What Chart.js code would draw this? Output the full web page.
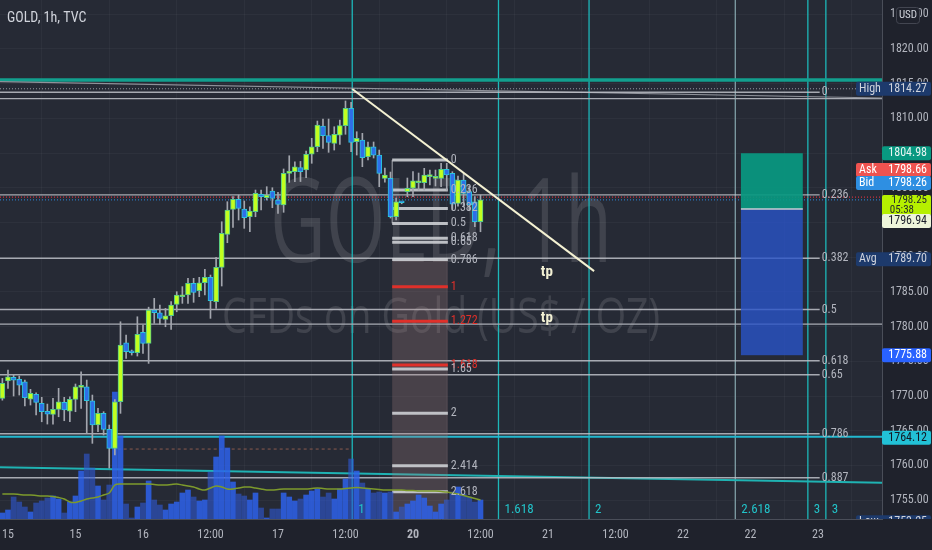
<!DOCTYPE html>
<html>
<head>
<meta charset="utf-8">
<script src="https://cdn.jsdelivr.net/npm/chart.js@4.4.1/dist/chart.umd.min.js"></script>
<style>
  html, body { margin: 0; padding: 0; background: #1e222d; }
  canvas { display: block; }
</style>
</head>
<body>
<canvas id="myChart" width="932" height="550"></canvas>
<script>
// hourly bars, index 0 = first bar at the left edge
const opens = [1769.67,1772.16,1772.69,1772.40,1772.06,1769.56,1770.24,1768.94,1767.79,1767.36,
  1768.08,1769.09,1767.83,1769.52,1771.25,1771.34,1769.32,1765.82,1767.50,1765.20,
  1762.46,1769.18,1777.68,1776.48,1776.24,1779.18,1777.59,1782.39,1782.00,1781.05,
  1781.57,1783.21,1784.30,1784.55,1786.24,1785.17,1786.32,1787.10,1783.59,1788.54,
  1793.30,1796.90,1798.34,1796.94,1795.83,1796.55,1799.06,1798.57,1799.54,1798.24,
  1797.52,1802.09,1802.32,1802.90,1802.56,1804.83,1805.92,1808.90,1807.51,1806.41,
  1807.60,1808.95,1811.45,1806.64,1806.89,1804.48,1805.92,1804.72,1801.37,1801.37,
  1795.83,1797.90,1799.44,1799.93,1800.73,1800.73,1801.60,1801.37,1801.37,1802.66,
  1802.09,1797.76,1801.12,1799.44,1797.99,1795.11];
const highs = [1772.54,1773.74,1773.02,1772.88,1772.30,1770.96,1770.47,1769.81,1768.84,1769.67,
  1771.11,1769.81,1769.90,1771.73,1773.50,1772.30,1770.14,1768.22,1767.74,1765.82,
  1769.50,1780.70,1778.79,1776.63,1781.42,1780.23,1782.80,1784.07,1783.11,1782.63,
  1783.59,1785.03,1785.76,1786.96,1786.96,1787.10,1788.25,1787.43,1789.98,1795.11,
  1798.00,1798.72,1798.96,1798.10,1797.27,1799.68,1799.68,1800.16,1800.01,1799.35,
  1802.71,1804.62,1803.76,1803.80,1805.30,1807.13,1809.62,1809.91,1809.91,1808.80,
  1809.77,1812.51,1812.32,1808.08,1807.85,1806.60,1806.60,1805.44,1802.85,1802.27,
  1798.53,1798.00,1801.41,1802.32,1802.13,1802.81,1802.56,1802.56,1803.53,1803.53,
  1802.32,1801.70,1802.09,1800.26,1798.72,1798.96];
const lows = [1769.40,1771.10,1770.00,1770.14,1768.56,1768.70,1767.26,1766.29,1765.96,1765.96,
  1767.01,1766.44,1766.29,1767.74,1768.22,1764.62,1763.18,1764.85,1764.38,1759.62,
  1761.50,1767.50,1775.43,1775.90,1775.76,1776.15,1774.70,1780.47,1780.37,1779.98,
  1779.61,1782.14,1783.35,1783.35,1783.50,1784.31,1784.55,1781.19,1782.63,1785.85,
  1792.09,1794.31,1795.36,1794.16,1793.67,1795.83,1796.80,1798.24,1797.13,1796.32,
  1796.47,1800.79,1800.88,1800.90,1801.46,1803.53,1805.20,1805.69,1805.11,1805.44,
  1806.26,1807.71,1805.20,1804.72,1803.04,1804.00,1804.29,1800.16,1800.83,1795.65,
  1795.36,1797.70,1798.72,1798.72,1799.68,1799.68,1800.40,1800.26,1800.16,1799.68,
  1796.80,1797.37,1797.27,1796.80,1794.39,1793.67];
const closes = [1771.83,1772.78,1772.30,1771.58,1769.75,1770.38,1769.09,1767.74,1767.40,1768.08,
  1769.18,1767.98,1769.52,1771.34,1771.54,1769.32,1765.82,1767.50,1765.20,1762.46,
  1769.18,1777.35,1776.38,1776.24,1778.89,1777.59,1782.39,1782.00,1781.19,1781.57,
  1783.11,1784.55,1784.55,1786.24,1784.94,1786.32,1787.10,1783.73,1788.54,1793.44,
  1796.80,1798.34,1797.04,1795.69,1796.65,1799.20,1798.72,1798.96,1798.48,1797.62,
  1802.09,1802.42,1803.04,1802.32,1804.83,1805.92,1809.05,1807.51,1806.55,1807.71,
  1808.95,1811.45,1806.55,1807.13,1804.34,1805.92,1804.72,1802.09,1801.84,1795.83,
  1797.99,1797.85,1799.93,1801.02,1800.93,1801.84,1801.84,1801.60,1802.66,1801.84,
  1797.66,1801.12,1799.20,1797.52,1795.11,1798.25];
const volumes = [600,900,2200,1700,1200,700,1600,1800,2100,2300,
  2000,600,1700,2300,4800,6500,5100,3300,1900,3400,
  12700,8300,1500,100,1200,1600,3800,1900,1400,900,
  1500,1700,2600,2900,2200,1800,1900,4700,6200,8300,
  7100,3700,2500,2300,1900,2600,1100,100,1000,1000,
  2600,2200,1800,2000,2400,2800,3000,2200,2600,2000,
  3000,4000,6000,4800,3600,3000,2600,2700,2600,2700,
  700,1200,1500,1800,2400,2100,1300,700,1500,1900,
  2700,3200,2500,2200,1700,1900];
const volumeMA = [2500,2500,2500,2450,2400,2400,2350,2300,2300,2250,
  2150,2000,1700,1650,1800,2000,2100,2200,2400,2600,
  3400,3500,3500,3500,3500,3500,3500,3450,3400,3400,
  3450,3500,3400,3300,3200,3000,2900,3100,3300,3200,
  3000,3000,3100,3200,3200,3100,3000,2900,2900,2950,
  3000,3000,3000,3000,3000,3050,3100,3050,3000,3000,
  3000,3050,3100,3150,3100,3050,3000,2950,2900,2900,
  2900,2900,2850,2850,2800,2800,2800,2800,2750,2700,
  2600,2500,2350,2200,2050,1900];

const timeTickIdx = [1, 13, 25, 37, 49, 61, 73, 85, 97, 109, 121, 133, 145];
const timeTickLabels = ['15', '15', '16', '12:00', '17', '12:00', '20', '12:00', '21', '12:00', '22', '22', '23'];
const priceTicks = [1755, 1760, 1765, 1770, 1775, 1780, 1785, 1790, 1795, 1800, 1805, 1810, 1815, 1820, 1825];

// drawings
const fibRetLevels = [0, 0.236, 0.382, 0.5, 0.618, 0.65, 0.786, 0.887];
const fibRetPrices = [1813.76, 1751.16];          // level 0, level 1
const fibExtLevels = [0, 0.236, 0.382, 0.5, 0.618, 0.65, 0.786, 1, 1.272, 1.618, 1.65, 2, 2.414, 2.618];
const fibExtPrices = [1804.0, 1785.75];           // level 0, level 1
const fibExtRange = [69.3, 79.2];                 // bar index span
const timeZoneIdx = [62.2, 88.2, 104.3, 130.3, 143.2, 146.4];
const timeZoneLabels = ['1', '1.618', '2', '2.618', '3', '3'];
const refLinePrices = [1815.53, 1814.27, 1812.84, 1780.37, 1798.66, 1798.26, 1764.12];
const trendLine = [[62.2, 1814.24], [105.2, 1788.0]];
const channelLines = [[[-0.42, 1815.29], [156.38, 1812.94]], [[-0.42, 1759.72], [156.38, 1757.5]]];
const dashedLine = [[20.5, 1762.36], [62, 1762.36]];
const longBox = { from: 131.3, to: 142.3, target: 1804.98, entry: 1796.94, stop: 1775.88 };
const tpIdx = 96.8;
const tpPrices = [1787.87, 1781.24];
const tagPrices = [1814.27, 1804.98, 1798.66, 1798.26, 1798.25, 1796.94, 1789.70, 1775.88, 1764.12, 1753.25];
const tagNames = ['High', '', 'Ask', 'Bid', '', '', 'Avg', '', '', 'Low'];
const tagSubs = ['', '', '', '', '05:38', '', '', '', '', ''];

const FONT = "'Liberation Sans Narrow', 'Roboto Condensed', Roboto, sans-serif";
const PANE_BG = '#262a35', AXIS_BG = '#1f222c', GRID = 'rgba(255,255,255,0.035)', TICK = '#b2b5be';
const UP = '#c2ff1f', UP_EDGE = '#52c98c', DOWN = '#2f6ee8', DOWN_EDGE = '#29c4dc', WICK = '#a3a6ae';
const FIB_GRAY = 'rgba(190,193,200,0.85)', FIB_RED = '#e0302a', ZONE = '#1db7b9';
const refLineStyles = [
  { color: '#129f8e', width: 3.5 },
  { color: '#9598a1', width: 1, dash: [1, 2] },
  { color: '#a9acb4', width: 1.3 },
  { color: '#a9acb4', width: 1.3 },
  { color: '#f23645', width: 1, dash: [1, 2] },
  { color: '#2f8ae0', width: 1, dash: [1, 2] },
  { color: '#22b8cf', width: 2 }
];
const zoneColors = [ZONE, ZONE, ZONE, '#7f9ea6', ZONE, ZONE];
const tagStyles = [
  { bg: '#1d3a6c', fg: '#d1d4dc', dy: 0 },
  { bg: '#089981', fg: '#e8f5f2', dy: 0 },
  { bg: '#ef5350', fg: '#ffffff', dy: -27 },
  { bg: '#2e8fe2', fg: '#ffffff', dy: -17 },
  { bg: '#b6f000', fg: '#1e222d', dy: 2 },
  { bg: '#eef5da', fg: '#1e222d', dy: 12 },
  { bg: '#1d3a6c', fg: '#d1d4dc', dy: 0 },
  { bg: '#2962ff', fg: '#ffffff', dy: 0 },
  { bg: '#22c1d6', fg: '#131722', dy: 1 },
  { bg: '#1d3a6c', fg: '#d1d4dc', dy: 10 }
];

Chart.defaults.font.family = FONT;

function seg(c, x1, y1, x2, y2, color, w, dash) {
  c.save();
  c.strokeStyle = color;
  c.lineWidth = w;
  c.setLineDash(dash || []);
  c.beginPath();
  c.moveTo(x1, y1);
  c.lineTo(x2, y2);
  c.stroke();
  c.restore();
}

function fibPrice(pair, lvl) {
  return pair[0] + (pair[1] - pair[0]) * lvl;
}

const overlays = {
  id: 'overlays',
  beforeDraw(chart) {
    const { ctx: c, chartArea: a } = chart;
    c.save();
    c.fillStyle = AXIS_BG;
    c.fillRect(0, 0, chart.width, chart.height);
    c.fillStyle = PANE_BG;
    c.fillRect(a.left, a.top, a.right - a.left, a.bottom - a.top);
    c.restore();
  },
  beforeDatasetsDraw(chart) {
    const { ctx: c, chartArea: a, scales: { x: xs, y: ys } } = chart;
    const X = v => xs.getPixelForValue(v), Y = v => ys.getPixelForValue(v);
    c.save();
    c.beginPath();
    c.rect(a.left, a.top, a.right - a.left, a.bottom - a.top);
    c.clip();

    // watermark
    c.fillStyle = 'rgba(255,255,255,0.12)';
    c.textAlign = 'center';
    c.textBaseline = 'alphabetic';
    const cx = (a.left + a.right) / 2;
    [['GOLD, 1h', 118, 342, 262], ['CFDs on Gold (US$ / OZ)', 49, 438, 333]].forEach(([t, size, w, base]) => {
      c.save();
      c.font = size + "px 'Open Sans', sans-serif";
      const sx = w / c.measureText(t).width;
      c.translate(cx, a.top + base);
      c.scale(sx, 1);
      c.fillText(t, 0, 0);
      c.restore();
    });

    // fib time zones
    timeZoneIdx.forEach((v, k) => seg(c, X(v), a.top, X(v), a.bottom, zoneColors[k], 1.3));

    // horizontal reference lines
    refLinePrices.forEach((p, k) => {
      const s = refLineStyles[k];
      seg(c, a.left, Y(p), a.right, Y(p), s.color, s.width, s.dash);
    });
    channelLines.forEach((ln, k) => {
      seg(c, X(ln[0][0]), Y(ln[0][1]), X(ln[1][0]), Y(ln[1][1]), k ? '#1fb3b3' : '#8f929a', k ? 2 : 1.2);
    });
    seg(c, X(dashedLine[0][0]), Y(dashedLine[0][1]), X(dashedLine[1][0]), Y(dashedLine[1][1]), '#8a5b4e', 1, [3, 3]);

    // fib retracement
    const fibEnd = X(145.3);
    fibRetLevels.forEach(l => {
      const y = Y(fibPrice(fibRetPrices, l));
      seg(c, a.left, y, fibEnd, y, FIB_GRAY, 1.4);
    });

    // fib extension box
    const ex1 = X(fibExtRange[0]), ex2 = X(fibExtRange[1]);
    c.fillStyle = 'rgba(160,125,125,0.28)';
    const shadeTop = Y(fibPrice(fibExtPrices, 0.786));
    c.fillRect(ex1, shadeTop, ex2 - ex1, a.bottom - shadeTop);
    seg(c, ex1, Y(fibPrice(fibExtPrices, 0)), ex1, Y(fibPrice(fibExtPrices, 0.5)), FIB_GRAY, 1);
    fibExtLevels.forEach(l => {
      const y = Y(fibPrice(fibExtPrices, l));
      const red = l === 1 || l === 1.272 || l === 1.618;
      seg(c, ex1, y, ex2, y, red ? FIB_RED : 'rgba(205,207,212,0.9)', 3);
    });

    // long position
    const bx1 = X(longBox.from), bx2 = X(longBox.to);
    c.fillStyle = 'rgba(8,153,129,0.92)';
    c.fillRect(bx1, Y(longBox.target), bx2 - bx1, Y(longBox.entry) - Y(longBox.target));
    c.fillStyle = 'rgba(41,84,200,0.8)';
    c.fillRect(bx1, Y(longBox.entry), bx2 - bx1, Y(longBox.stop) - Y(longBox.entry));
    seg(c, bx1, Y(longBox.entry), bx2, Y(longBox.entry), '#c9ccd3', 1.5);
    c.restore();
  },
  afterDatasetsDraw(chart) {
    const { ctx: c, chartArea: a, scales: { x: xs, y: ys } } = chart;
    const X = v => xs.getPixelForValue(v), Y = v => ys.getPixelForValue(v);
    c.save();
    c.beginPath();
    c.rect(a.left, a.top, a.right - a.left, a.bottom - a.top);
    c.clip();

    // trend line
    seg(c, X(trendLine[0][0]), Y(trendLine[0][1]), X(trendLine[1][0]), Y(trendLine[1][1]), '#f4f1d2', 2);

    // fib labels
    c.textBaseline = 'middle';
    c.textAlign = 'left';
    c.font = '12px ' + FONT;
    c.fillStyle = TICK;
    fibRetLevels.forEach(l => c.fillText(String(l), X(145.3) + 2, Y(fibPrice(fibRetPrices, l))));
    fibExtLevels.forEach(l => {
      const red = l === 1 || l === 1.272 || l === 1.618;
      c.fillStyle = red ? FIB_RED : TICK;
      c.fillText(String(l), X(fibExtRange[1]) + 3, Y(fibPrice(fibExtPrices, l)));
    });

    // time zone labels
    c.font = '13px ' + FONT;
    timeZoneIdx.forEach((v, k) => {
      c.fillStyle = '#22c3c9';
      c.fillText(timeZoneLabels[k], X(v) + 6, a.bottom - 9);
    });

    // tp notes
    c.font = 'bold 15px ' + FONT;
    c.fillStyle = '#f2f0d4';
    c.textAlign = 'center';
    tpPrices.forEach(p => c.fillText('tp', X(tpIdx), Y(p)));

    // title
    c.textAlign = 'left';
    c.font = '14px ' + FONT;
    c.fillStyle = '#d1d4dc';
    c.fillText('GOLD, 1h, TVC', a.left + 7, a.top + 18);
    c.restore();

    // price tags on the axis
    c.save();
    c.beginPath();
    c.rect(0, a.top, chart.width, a.bottom - a.top);
    c.clip();
    c.textBaseline = 'middle';
    tagPrices.forEach((p, k) => {
      const s = tagStyles[k];
      const top = Y(p) - 7 + s.dy;
      const h = tagSubs[k] ? 21 : 14;
      const x0 = tagNames[k] ? a.right - 26 : a.right;
      c.fillStyle = s.bg;
      c.beginPath();
      c.roundRect(x0, top, chart.width - x0 - 1, h, 2);
      c.fill();
      c.fillStyle = s.fg;
      c.textAlign = 'right';
      c.font = (tagSubs[k] ? '11px ' : '12px ') + FONT;
      c.fillText(p.toFixed(2), chart.width - 5, top + (tagSubs[k] ? 5.5 : 7));
      if (tagSubs[k]) c.fillText(tagSubs[k], chart.width - 18, top + 15.5);
      if (tagNames[k]) {
        c.textAlign = 'left';
        c.fillText(tagNames[k], x0 + 3, top + 7);
      }
    });
    c.restore();

    // currency button
    c.save();
    c.fillStyle = AXIS_BG;
    c.strokeStyle = '#434651';
    c.beginPath();
    c.roundRect(a.right + 14.5, 7.5, 23, 16, 3);
    c.fill();
    c.stroke();
    c.fillStyle = '#d1d4dc';
    c.font = '11px ' + FONT;
    c.textAlign = 'center';
    c.textBaseline = 'middle';
    c.fillText('USD', a.right + 26, 15.5);
    c.restore();
  }
};

const ctx = document.getElementById('myChart').getContext('2d');
const idx = opens.map((_, i) => i);
const isUp = opens.map((o, i) => closes[i] >= o);

var myChart = new Chart(ctx, {
  type: 'bar',
  data: {
    datasets: [
      {
        label: 'Body',
        data: idx.map(i => ({ x: i, y: [opens[i], closes[i]] })),
        backgroundColor: isUp.map(u => u ? UP : DOWN),
        borderColor: isUp.map(u => u ? UP_EDGE : DOWN_EDGE),
        borderWidth: 1,
        borderSkipped: false,
        barThickness: 5,
        minBarLength: 2,
        grouped: false,
        order: 1
      },
      {
        label: 'Wick',
        data: idx.map(i => ({ x: i, y: [lows[i], highs[i]] })),
        backgroundColor: WICK,
        barThickness: 1,
        grouped: false,
        order: 2
      },
      {
        type: 'line',
        label: 'Volume MA',
        data: idx.map(i => ({ x: i, y: volumeMA[i] })),
        yAxisID: 'yv',
        borderColor: '#7d9a2c',
        borderWidth: 1.5,
        pointRadius: 0,
        tension: 0.3,
        order: 3
      },
      {
        label: 'Volume',
        data: idx.map(i => ({ x: i, y: volumes[i] })),
        yAxisID: 'yv',
        backgroundColor: isUp.map(u => u ? 'rgba(46,98,235,0.85)' : 'rgba(46,90,215,0.6)'),
        barThickness: 5,
        grouped: false,
        order: 4
      }
    ]
  },
  options: {
    responsive: false,
    maintainAspectRatio: false,
    animation: false,
    layout: { padding: 0 },
    plugins: { legend: { display: false }, tooltip: { enabled: false } },
    scales: {
      x: {
        type: 'linear',
        min: -0.42,
        max: 156.38,
        offset: false,
        grid: { color: GRID, drawTicks: false },
        border: { color: '#4a4e59' },
        ticks: {
          color: TICK,
          padding: 9,
          autoSkip: false,
          maxRotation: 0,
          font: c => ({ size: 12, weight: c.tick && c.tick.value === 73 ? 'bold' : 'normal' }),
          callback: v => timeTickLabels[timeTickIdx.indexOf(v)]
        },
        afterBuildTicks: s => { s.ticks = timeTickIdx.map(v => ({ value: v })); },
        afterFit: s => { s.height = 31; s.paddingLeft = 0; s.paddingRight = 0; }
      },
      y: {
        position: 'right',
        min: 1752.28,
        max: 1827.06,
        grid: { color: GRID, drawTicks: false },
        border: { color: '#4a4e59' },
        ticks: { color: TICK, padding: 8, font: { size: 12 }, callback: v => v.toFixed(2) },
        afterBuildTicks: s => { s.ticks = priceTicks.map(v => ({ value: v })); },
        afterFit: s => { s.width = 50; s.paddingTop = 0; s.paddingBottom = 0; }
      },
      yv: { display: false, min: 0, max: 51900 }
    }
  },
  plugins: [overlays]
});
</script>
</body>
</html>
